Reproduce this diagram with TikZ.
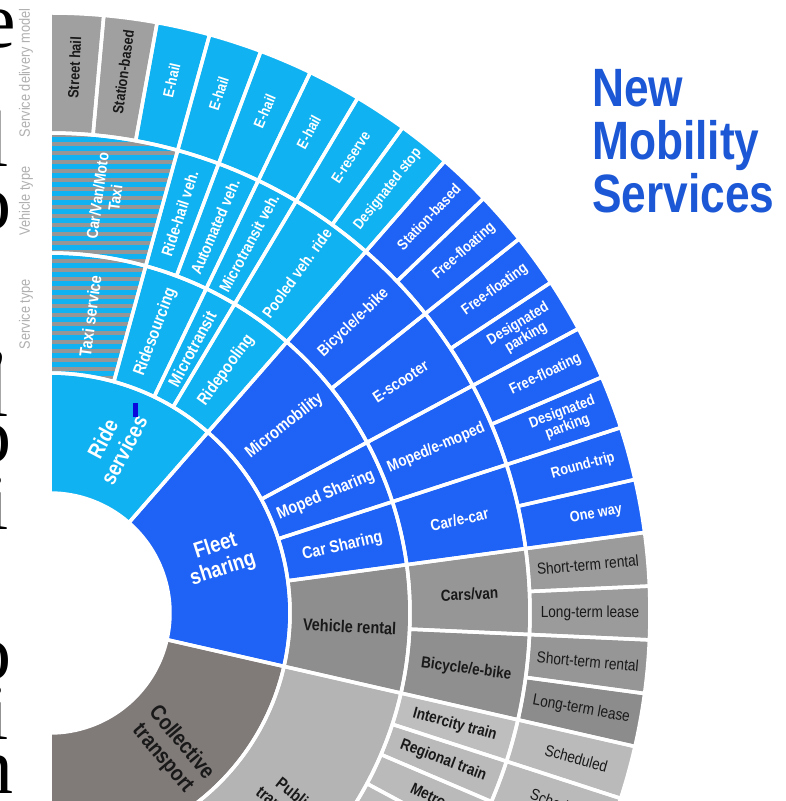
\documentclass[tikz,border=0pt]{standalone}
\usepackage{fontspec}
\setmainfont{Liberation Sans}[FakeStretch=0.85]
\newfontfamily\titlefont{Liberation Sans}[FakeStretch=0.82]
\newfontfamily\pageserif{Liberation Serif}
\definecolor{cyanR}{RGB}{16,178,242}
\definecolor{blueF}{RGB}{30,98,246}
\definecolor{darkC}{RGB}{128,122,120}
\definecolor{greyS}{RGB}{160,160,160}
\definecolor{greyV}{RGB}{142,142,142}
\definecolor{greyC}{RGB}{150,150,150}
\definecolor{greyB}{RGB}{143,143,143}
\definecolor{greyR}{RGB}{155,155,155}
\definecolor{greyRd}{RGB}{140,140,140}
\definecolor{lightP}{RGB}{180,180,180}
\definecolor{lightT}{RGB}{190,190,190}
\definecolor{lightS}{RGB}{186,186,186}
\definecolor{hatchgrey}{RGB}{150,150,150}
\definecolor{titleblue}{RGB}{28,88,214}
\definecolor{axisgrey}{RGB}{175,175,175}
\definecolor{inkdark}{RGB}{25,25,25}
\definecolor{markblue}{RGB}{10,10,220}
% label placed at the middle of a sector: style, name, leaf index (middle), radius, text
\newcommand\seclabel[5]{\node[#1, rotate={90-(#3)*180/35}] (#2) at ({90-(#3)*180/35}:#4pt) {#5};}
\begin{document}
\begin{tikzpicture}[x=1pt,y=1pt,
  lbl/.style={inner sep=1pt, align=center},
  tA/.style={lbl, font=\bfseries\fontsize{22}{24}\selectfont},
  tB/.style={lbl, font=\bfseries\fontsize{17}{19}\selectfont},
  tC/.style={lbl, font=\bfseries\fontsize{16}{18}\selectfont},
  tD/.style={lbl, font=\bfseries\fontsize{15}{15.5}\selectfont},
  tE/.style={lbl, font=\fontsize{16}{17}\selectfont},
  onblue/.style={text=white},
  ongrey/.style={text=inkdark},
  axis/.style={text=axisgrey, font=\fontsize{15}{15}\selectfont, rotate=90, inner sep=0},
  ttl/.style={text=titleblue, font=\titlefont\bfseries\fontsize{54}{54}\selectfont, anchor=base west, inner sep=0},
  pagetext/.style={font=\pageserif\fontsize{80}{80}\selectfont, anchor=base east, inner sep=0, text=black}
]
\useasboundingbox (0,0) rectangle (786,801);
\clip (0,0) rectangle (786,801);

% neighbouring page text, cut by the left edge
\node[pagetext] (pg1) at (16,753) {e};
\node[pagetext] (pg0) at (9,634) {l};
\node[pagetext] (pg2) at (12,571) {o};
\node[pagetext] (pg3) at (8,441) {,};
\node[pagetext] (pg4) at (9,384) {l};
\node[pagetext] (pg5) at (12,338) {o};
\node[pagetext] (pg6) at (9,271) {i};
\node[pagetext] (pg7) at (12,121) {o};
\node[pagetext] (pg8) at (9,61) {i};
\node[pagetext] (pg9) at (14,8) {n};

% ring titles
\node[axis] (axDel) at (26,728) {Service delivery model};
\node[axis] (axVeh) at (26,600) {Vehicle type};
\node[axis] (axSer) at (26,487) {Service type};

% title
\node[ttl] (tNew) at (592,694) {New};
\node[ttl] (tMob) at (592,641) {Mobility};
\node[ttl] (tSer) at (592,588) {Services};

\begin{scope}[shift={(50,188)}]
% sectors: ring / first leaf / last leaf / colour
\def\sectors{1/0/8/cyanR, 1/8/20/blueF, 1/20/35/darkC,
  2/0/3/cyanR, 2/3/5/cyanR, 2/5/6/cyanR, 2/6/8/cyanR,
  2/8/12/blueF, 2/12/14/blueF, 2/14/16/blueF, 2/16/20/greyV, 2/20/30/lightP,
  3/0/3/cyanR, 3/3/4/cyanR, 3/4/5/cyanR, 3/5/6/cyanR, 3/6/8/cyanR,
  3/8/10/blueF, 3/10/12/blueF, 3/12/14/blueF, 3/14/16/blueF,
  3/16/18/greyC, 3/18/20/greyB, 3/20/21/lightT, 3/21/22/lightS, 3/22/23/lightS, 3/23/24/lightS,
  4/0/1/greyS, 4/1/2/greyS, 4/2/3/cyanR, 4/3/4/cyanR, 4/4/5/cyanR, 4/5/6/cyanR, 4/6/7/cyanR, 4/7/8/cyanR,
  4/8/9/blueF, 4/9/10/blueF, 4/10/11/blueF, 4/11/12/blueF, 4/12/13/blueF, 4/13/14/blueF, 4/14/15/blueF, 4/15/16/blueF,
  4/16/17/greyR, 4/17/18/greyR, 4/18/19/greyC, 4/19/20/greyRd, 4/20/21/lightS, 4/21/22/lightS}
\foreach \r/\a/\b/\c in \sectors {
  \pgfmathsetmacro\ri{120*\r}
  \pgfmathsetmacro\ro{120*\r+120}
  \pgfmathsetmacro\ta{90-\a*180/35}
  \pgfmathsetmacro\tb{90-\b*180/35}
  \fill[\c] (\ta:\ri pt) -- (\ta:\ro pt) arc[start angle=\ta, end angle=\tb, radius=\ro pt]
    -- (\tb:\ri pt) arc[start angle=\tb, end angle=\ta, radius=\ri pt] -- cycle;
}
% striped taxi sectors
\begin{scope}
  \pgfmathsetmacro\tb{90-3*180/35}
  \clip (90:240pt) -- (90:480pt) arc[start angle=90, end angle=\tb, radius=480pt]
    -- (\tb:240pt) arc[start angle=\tb, end angle=90, radius=240pt] -- cycle;
  \foreach \n in {0,...,30} \draw[hatchgrey, line width=3.2pt] (-5,478-9*\n) -- (160,478-9*\n);
\end{scope}
% white separators
\foreach \r/\a/\b/\c in \sectors {
  \pgfmathsetmacro\ri{120*\r}
  \pgfmathsetmacro\ro{120*\r+120}
  \pgfmathsetmacro\ta{90-\a*180/35}
  \pgfmathsetmacro\tb{90-\b*180/35}
  \draw[white, line width=3.5pt, line join=round] (\ta:\ri pt) -- (\ta:\ro pt) arc[start angle=\ta, end angle=\tb, radius=\ro pt]
    -- (\tb:\ri pt) arc[start angle=\tb, end angle=\ta, radius=\ri pt] -- cycle;
}

% ring 1
\node[tA, onblue, rotate=62] (rRide) at ({90-4*180/35}:180pt) {Ride\\services};
\seclabel{tA, onblue}{rFleet}{14}{178}{Fleet\\sharing}
\node[tA, ongrey, rotate=-50] (rColl) at (-48.5:184pt) {Collective\\transport};

% ring 2
\seclabel{tB, onblue}{sTaxi}{1.5}{300}{Taxi service}
\seclabel{tB, onblue}{sRidesrc}{4}{300}{Ridesourcing}
\seclabel{tB, onblue}{sMicrot}{5.5}{300}{Microtransit}
\seclabel{tB, onblue}{sRidepool}{7}{300}{Ridepooling}
\seclabel{tB, onblue}{sMicromob}{10}{300}{Micromobility}
\seclabel{tB, onblue}{sMoped}{13}{300}{Moped Sharing}
\seclabel{tB, onblue}{sCar}{15}{300}{Car Sharing}
\seclabel{tB, ongrey}{sRental}{18}{300}{Vehicle rental}
\seclabel{tB, ongrey}{sPublic}{25}{305}{Public\\transport}

% ring 3
\seclabel{tC, onblue}{vTaxi}{1.5}{420}{Car/Van/Moto\\Taxi}
\seclabel{tC, onblue}{vRidehail}{3.5}{420}{Ride-hail veh.}
\seclabel{tC, onblue}{vAuto}{4.5}{420}{Automated veh.}
\seclabel{tC, onblue}{vMicro}{5.5}{420}{Microtransit veh.}
\seclabel{tC, onblue}{vPooled}{7}{420}{Pooled veh. ride}
\seclabel{tC, onblue}{vBike}{9}{420}{Bicycle/e-bike}
\seclabel{tC, onblue}{vScooter}{11}{420}{E-scooter}
\seclabel{tC, onblue}{vMoped}{13}{420}{Moped/e-moped}
\seclabel{tC, onblue}{vCar}{15}{420}{Car/e-car}
\seclabel{tC, ongrey}{vCars}{17}{420}{Cars/van}
\seclabel{tC, ongrey}{vBikeR}{19}{420}{Bicycle/e-bike}
\seclabel{tC, ongrey}{vInter}{20.5}{420}{Intercity train}
\seclabel{tC, ongrey}{vRegio}{21.5}{420}{Regional train}
\seclabel{tC, ongrey}{vMetro}{22.5}{420}{Metro}

% ring 4
\seclabel{tD, ongrey}{dStreet}{0.5}{546}{Street hail}
\seclabel{tD, ongrey}{dStation}{1.5}{546}{Station-based}
\seclabel{tD, onblue}{dEhailA}{2.5}{546}{E-hail}
\seclabel{tD, onblue}{dEhailB}{3.5}{546}{E-hail}
\seclabel{tD, onblue}{dEhailC}{4.5}{546}{E-hail}
\seclabel{tD, onblue}{dEhailD}{5.5}{546}{E-hail}
\seclabel{tD, onblue}{dEres}{6.5}{546}{E-reserve}
\seclabel{tD, onblue}{dStop}{7.5}{542}{Designated stop}
\seclabel{tD, onblue}{dStationB}{8.5}{548}{Station-based}
\seclabel{tD, onblue}{dFreeA}{9.5}{550}{Free-floating}
\seclabel{tD, onblue}{dFreeB}{10.5}{550}{Free-floating}
\seclabel{tD, onblue}{dParkA}{11.5}{550}{Designated\\parking}
\seclabel{tD, onblue}{dFreeC}{12.5}{550}{Free-floating}
\seclabel{tD, onblue}{dParkB}{13.5}{550}{Designated\\parking}
\seclabel{tD, onblue}{dRound}{14.5}{553}{Round-trip}
\seclabel{tD, onblue}{dOneway}{15.5}{555}{One way}
\seclabel{tE, ongrey}{dShortA}{16.5}{540}{Short-term rental}
\seclabel{tE, ongrey}{dLongA}{17.5}{540}{Long-term lease}
\seclabel{tE, ongrey}{dShortB}{18.5}{540}{Short-term rental}
\seclabel{tE, ongrey}{dLongB}{19.5}{540}{Long-term lease}
\seclabel{tE, ongrey}{dSchedA}{20.5}{546}{Scheduled}
\seclabel{tE, ongrey}{dSchedB}{21.5}{546}{Scheduled}
\end{scope}

% small marker near the ride services label
\fill[markblue] (133,384) rectangle (138,398);
\end{tikzpicture}
\end{document}
